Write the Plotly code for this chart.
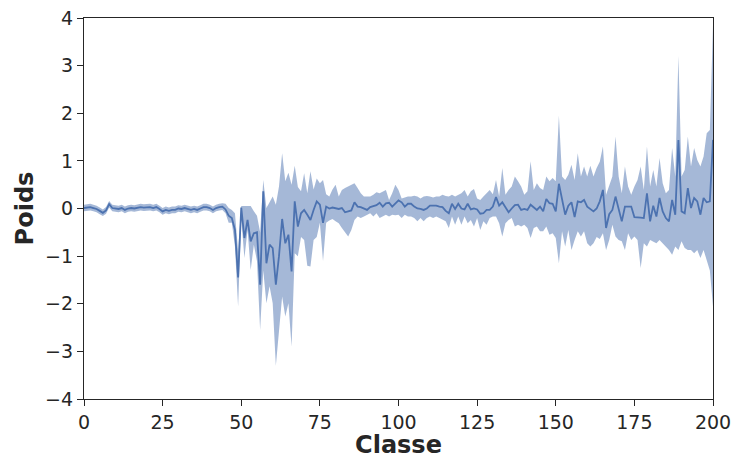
import plotly.graph_objects as go

classes = list(range(0, 201))

mean = [
    0.01, 0.02, 0.03, 0.01, -0.01, -0.05, -0.09, -0.04, 0.09, 0.01,
    0.0, -0.01, 0.01, -0.03, 0.0, 0.01, 0.0, 0.01, 0.03, 0.02,
    0.03, 0.03, 0.01, 0.03, -0.01, -0.06, -0.03, -0.05, -0.03, -0.03,
    0.0, -0.01, 0.01, -0.01, -0.03, -0.01, -0.03, 0.0, 0.03, 0.03,
    0.01, -0.03, 0.01, 0.03, 0.04, -0.02, -0.15, -0.2, -0.45, -1.45,
    0.02, -0.62, -0.24, -0.69, -0.52, -0.5, -1.6, 0.36, -1.15, -0.76,
    -0.83, -1.6, -1.0, -0.22, -0.73, -0.55, -1.32, 0.15, -0.38, -0.1,
    -0.03, -0.13, -0.24, -0.03, 0.15, 0.08, -0.3, 0.04, 0.0, 0.02,
    0.01, -0.01, 0.01, -0.08, -0.06, -0.04, 0.13, 0.04, 0.03, 0.0,
    -0.03, 0.03, 0.05, 0.07, 0.12, 0.04, 0.11, 0.12, 0.04, 0.1,
    0.17, 0.13, 0.04, 0.1, 0.1, 0.04, 0.0, -0.01, -0.03, 0.0,
    0.06, 0.06, 0.06, 0.04, 0.03, -0.05, -0.1, 0.1, -0.01, 0.1,
    0.0, -0.02, 0.1, -0.02, 0.0, -0.02, -0.11, -0.1, -0.03, -0.03,
    0.04, 0.24, 0.06, 0.13, 0.03, -0.08, 0.0, 0.07, 0.08, -0.03,
    -0.01, -0.03, 0.08, 0.03, -0.03, 0.04, -0.06, 0.2, 0.11, 0.1,
    -0.06, 0.52, 0.18, -0.13, 0.06, 0.13, -0.18, 0.15, 0.13, 0.18,
    0.04, -0.02, -0.06, 0.0, 0.15, 0.39, -0.41, -0.12, -0.03, 0.25,
    0.0, -0.27, 0.04, 0.04, 0.04, -0.18, -0.18, -0.19, -0.2, 0.32,
    -0.27, 0.06, -0.17, 0.22, -0.06, -0.2, -0.27, 0.18, -0.13, 1.44,
    -0.06, -0.1, 0.43, 0.01, 0.22, 0.15, -0.13, 0.22, 0.13, 0.15,
    1.44,
]

upper = [
    0.08, 0.09, 0.1, 0.08, 0.06, 0.02, -0.02, 0.03, 0.16, 0.08,
    0.07, 0.06, 0.08, 0.04, 0.07, 0.08, 0.07, 0.08, 0.1, 0.09,
    0.1, 0.1, 0.08, 0.1, 0.06, 0.01, 0.04, 0.02, 0.04, 0.04,
    0.07, 0.06, 0.08, 0.06, 0.04, 0.06, 0.04, 0.07, 0.1, 0.1,
    0.08, 0.04, 0.08, 0.1, 0.11, 0.1, 0.01, -0.03, -0.1, -0.9,
    0.05, 0.05, 0.05, 0.05, -0.06, -0.15, -0.5, 0.6, 0.01, 0.12,
    0.25, 0.08, 0.46, 1.16, 0.57, 0.75, 0.5, 0.9, 0.45, 0.36,
    0.74, 0.32, 0.78, 0.4, 0.63, 0.53, 0.6, 0.3, 0.25, 0.4,
    0.5, 0.25, 0.39, 0.43, 0.46, 0.5, 0.53, 0.43, 0.32, 0.25,
    0.25, 0.25, 0.29, 0.34, 0.32, 0.36, 0.39, 0.18, 0.32, 0.5,
    0.39, 0.21, 0.23, 0.25, 0.25, 0.27, 0.25, 0.21, 0.25, 0.26,
    0.25, 0.23, 0.25, 0.25, 0.29, 0.26, 0.25, 0.29, 0.25, 0.29,
    0.32, 0.39, 0.25, 0.36, 0.41, 0.21, 0.18, 0.25, 0.32, 0.39,
    0.3, 0.6, 0.25, 0.85, 0.29, 0.39, 0.46, 0.67, 0.57, 0.46,
    0.29, 0.36, 0.99, 0.39, 0.53, 0.43, 0.39, 0.67, 0.57, 0.64,
    0.57, 1.95, 0.67, 0.6, 0.71, 0.92, 0.6, 1.16, 0.67, 0.88,
    0.67, 0.9, 0.67, 0.85, 0.98, 1.3, 0.29, 0.46, 0.67, 1.51,
    0.67, 0.32, 0.88, 0.46, 0.29, 0.46, 0.6, 0.88, 0.39, 1.3,
    0.46, 0.81, 0.46, 1.06, 0.53, 0.32, 0.39, 1.27, 0.67, 3.2,
    0.67, 0.81, 1.51, 0.88, 1.27, 1.02, 0.88, 1.09, 1.58, 1.65,
    3.85,
]

lower = [
    -0.06, -0.05, -0.04, -0.06, -0.08, -0.12, -0.16, -0.11, 0.02, -0.06,
    -0.07, -0.08, -0.06, -0.1, -0.07, -0.06, -0.07, -0.06, -0.04, -0.05,
    -0.04, -0.04, -0.06, -0.04, -0.08, -0.13, -0.1, -0.12, -0.1, -0.1,
    -0.07, -0.08, -0.06, -0.08, -0.1, -0.08, -0.1, -0.07, -0.04, -0.04,
    -0.06, -0.1, -0.06, -0.04, -0.03, -0.1, -0.3, -0.3, -0.8, -2.06,
    -0.2, -1.04, -0.45, -1.29, -0.76, -1.1, -2.55, -1.3, -1.99, -1.63,
    -1.99, -3.3, -2.55, -1.85, -2.27, -1.99, -2.9, -0.94, -1.0, -0.6,
    -0.66, -1.2, -1.22, -0.66, -0.6, -0.3, -1.1, -0.3, -0.25, -0.22,
    -0.27, -0.31, -0.41, -0.5, -0.59, -0.45, -0.24, -0.17, -0.2, -0.17,
    -0.13, -0.1, -0.17, -0.1, -0.2, -0.17, -0.13, -0.17, -0.13, -0.14,
    -0.13, -0.2, -0.13, -0.17, -0.17, -0.2, -0.27, -0.2, -0.27, -0.2,
    -0.17, -0.2, -0.17, -0.2, -0.24, -0.27, -0.41, -0.17, -0.34, -0.17,
    -0.34, -0.17, -0.31, -0.24, -0.38, -0.2, -0.45, -0.27, -0.34, -0.2,
    -0.17, -0.17, -0.31, -0.59, -0.31, -0.24, -0.2, -0.38, -0.34, -0.38,
    -0.34, -0.41, -0.62, -0.41, -0.38, -0.48, -0.48, -0.38, -0.55, -0.52,
    -0.62, -1.15, -0.48, -0.8, -0.45, -0.87, -0.66, -0.48, -0.59, -0.48,
    -0.73, -0.8, -0.73, -0.6, -0.64, -0.52, -0.87, -0.66, -0.34, -0.59,
    -0.66, -0.69, -0.87, -0.52, -0.66, -0.59, -0.66, -1.25, -0.73, -0.8,
    -0.66, -0.69, -0.73, -0.66, -0.73, -0.8, -0.87, -0.97, -0.8, -0.87,
    -0.69, -0.83, -0.87, -0.87, -0.94, -0.87, -1.04, -0.87, -1.08, -1.3,
    -2.06,
]

x_ticks = [0, 25, 50, 75, 100, 125, 150, 175, 200]
y_ticks = [-4, -3, -2, -1, 0, 1, 2, 3, 4]

blue = "#4C72B0"
band = "rgba(76,114,176,0.5)"
ink = "#262626"

fig = go.Figure()
fig.add_trace(go.Scatter(x=classes, y=upper, mode="lines",
                         line=dict(width=0, color=band), showlegend=False,
                         hoverinfo="skip"))
fig.add_trace(go.Scatter(x=classes, y=lower, mode="lines", fill="tonexty",
                         fillcolor=band, line=dict(width=0, color=band),
                         showlegend=False, hoverinfo="skip"))
fig.add_trace(go.Scatter(x=classes, y=mean, mode="lines",
                         line=dict(width=1.8, color=blue), showlegend=False))

axis_common = dict(
    showgrid=False, zeroline=False, showline=True, mirror=True,
    linecolor=ink, linewidth=1.25, ticks="outside", ticklen=6,
    tickwidth=1.25, tickcolor=ink, automargin=False,
    tickfont=dict(family="DejaVu Sans", size=19, color=ink),
)

fig.update_layout(
    width=734, height=459,
    margin=dict(l=84, r=21, t=18, b=60),
    paper_bgcolor="white", plot_bgcolor="white",
    xaxis=dict(range=[0, 200], tickvals=x_ticks,
               title=dict(text="<b>Classe</b>", standoff=19,
                          font=dict(family="DejaVu Sans", size=24, color=ink)),
               **axis_common),
    yaxis=dict(range=[-4, 4], tickvals=y_ticks,
               title=dict(text="<b>Poids</b>", standoff=4,
                          font=dict(family="DejaVu Sans", size=24, color=ink)),
               **axis_common),
)

fig.write_html(
    "out.html",
    config={"displayModeBar": False},
    post_script="document.body.style.margin='0';document.body.style.overflow='hidden';",
)
